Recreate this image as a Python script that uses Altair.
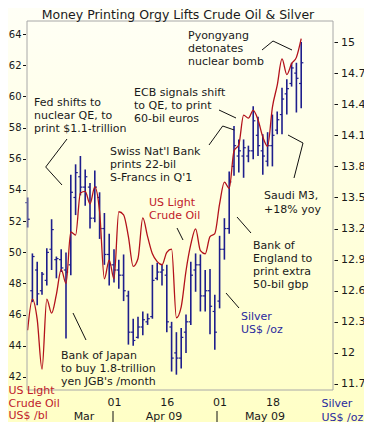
import altair as alt
import pandas as pd

# ---------------- data ----------------
days = [d.strftime("%Y-%m-%d") for d in pd.bdate_range("2009-03-06", "2009-05-26")]

oil = [45.0, 47.0, 45.7, 42.5, 47.0, 46.1, 47.3, 48.9, 48.0, 51.3,
       51.1, 53.8, 53.9, 53.1, 54.2, 52.6, 48.3, 49.5, 48.3, 52.6,
       52.4, 51.0, 49.1, 49.6, 52.2, 51.0, 49.9, 49.4, 49.2, 50.0,
       50.2, 45.8, 46.5, 48.8, 50.5, 51.5, 50.1, 49.9, 51.0, 51.2,
       53.1, 54.5, 54.1, 56.5, 56.9, 58.8, 58.6, 59.1, 58.5, 57.4,
       56.8, 59.3, 60.7, 62.4, 61.4, 62.1, 62.5, 63.7]

s_open = [13.45, 12.60, 12.80, 12.60, 12.70, 13.00, 12.90, 12.90, 12.80, 12.85,
          13.50, 13.70, 13.60, 13.60, 13.30, 13.50, 13.20, 12.95, 12.85, 12.80,
          12.75, 12.55, 12.20, 12.15, 12.25, 12.30, 12.35, 12.72, 12.78, 12.75,
          12.25, 12.00, 11.95, 12.20, 12.30, 12.80, 12.85, 12.55, 12.60, 12.40,
          12.50, 13.00, 13.20, 13.80, 13.90, 13.90, 13.90, 13.95, 14.10, 13.95,
          13.85, 14.00, 14.15, 14.30, 14.50, 14.60, 14.70, 14.60]
s_high = [13.50, 12.96, 12.88, 12.78, 13.01, 13.29, 12.93, 13.00, 12.97, 13.72,
          13.82, 13.90, 13.77, 13.64, 13.76, 13.55, 13.35, 13.15, 13.00, 12.90,
          12.95, 12.60, 12.33, 12.35, 12.40, 12.38, 12.85, 12.87, 12.85, 12.85,
          12.30, 12.20, 12.24, 12.37, 12.88, 12.96, 12.95, 12.80, 12.81, 12.56,
          13.13, 13.30, 13.75, 14.19, 14.06, 14.06, 14.00, 14.38, 14.28, 14.11,
          14.13, 14.30, 14.33, 14.56, 14.64, 14.80, 14.80, 15.00]
s_low = [13.21, 12.49, 12.46, 12.56, 12.65, 12.80, 12.72, 12.78, 12.14, 12.75,
         13.33, 13.52, 13.42, 13.20, 13.26, 13.10, 12.85, 12.65, 12.68, 12.62,
         12.50, 12.08, 12.07, 12.14, 12.17, 12.27, 12.33, 12.70, 12.65, 12.20,
         11.82, 11.79, 11.85, 12.00, 12.27, 12.59, 12.40, 12.40, 12.18, 12.03,
         12.43, 12.90, 13.15, 13.71, 13.74, 13.69, 13.84, 13.87, 13.90, 13.72,
         13.80, 13.80, 14.11, 14.11, 14.30, 14.57, 14.32, 14.36]
s_close = [13.29, 12.93, 12.57, 12.76, 12.97, 13.19, 12.91, 12.82, 12.78, 13.55,
           13.74, 13.60, 13.70, 13.30, 13.60, 13.20, 12.95, 12.85, 12.80, 12.75,
           12.60, 12.20, 12.12, 12.25, 12.32, 12.33, 12.70, 12.78, 12.80, 12.30,
           11.95, 11.95, 12.15, 12.30, 12.75, 12.85, 12.55, 12.60, 12.45, 12.20,
           13.00, 13.20, 13.65, 14.00, 13.95, 13.98, 13.95, 14.24, 14.00, 13.90,
           14.00, 14.10, 14.25, 14.45, 14.55, 14.75, 14.65, 14.80]

x_tick_values = [18, 29, 40, 51]
x_tick_labels = ["01", "16", "01", "18"]
oil_ticks = [42, 44, 46, 48, 50, 52, 54, 56, 58, 60, 62, 64]
silver_ticks = [11.7, 12.0, 12.3, 12.6, 12.9, 13.2, 13.5, 13.8, 14.1, 14.4, 14.7, 15.0]

df = pd.DataFrame({
    "date": days,
    "i": list(range(len(days))),
    "oil": oil,
    "s_open": s_open,
    "s_high": s_high,
    "s_low": s_low,
    "s_close": s_close,
})

# ---------------- styles ----------------
W, H = 306, 369
FONT = "DejaVu Sans"
RED = "#B3121B"
RED_TXT = "#C0202A"
NAVY = "#1E1E8C"
NAVY_TXT = "#2A2A9E"
TXT = "#1a1a1a"

label_expr = " : ".join(
    f"datum.value == {v} ? '{t}'" for v, t in zip(x_tick_values, x_tick_labels)
) + " : ''"

xscale = alt.Scale(domain=[-0.125, 63.625], nice=False, zero=False)
xaxis = alt.Axis(values=x_tick_values, labelExpr=label_expr, ticks=False, domain=False,
                 grid=False, labelPadding=6, labelFontSize=11, zindex=1, title=None)
X = alt.X("i:Q", scale=xscale, axis=xaxis)

oil_scale = alt.Scale(domain=[41.166, 64.834], nice=False, zero=False)
oil_axis = alt.Axis(orient="left", values=oil_ticks, grid=False, domain=False,
                    tickSize=3, offset=1.5, labelPadding=1.5, tickColor="#111",
                    labelFontSize=10, zindex=1, title=None)
sil_scale = alt.Scale(domain=[11.642, 15.203], nice=False, zero=False)
sil_axis = alt.Axis(orient="right", values=silver_ticks, format=".1~f", grid=False,
                    domain=False, tickSize=3.5, offset=1, labelPadding=3, tickColor="#111",
                    labelFontSize=11, zindex=1, title=None)

one = alt.Data(values=[{"k": 0}])

base = alt.Chart(df)

# background gradient (whole canvas) and frame
bg = alt.Chart(one).mark_rect(
    fill=alt.LinearGradient(gradient="linear",
                            stops=[alt.GradientStop(color="#FFFFF6", offset=0),
                                   alt.GradientStop(color="#FFFFC6", offset=1)],
                            x1=0, x2=0, y1=0, y2=1)
).encode(x=alt.value(-19), x2=alt.value(W + 31), y=alt.value(-13), y2=alt.value(H + 32))

frame = alt.Chart(one).mark_rect(filled=False, stroke="#A8A8A8", strokeWidth=1).encode(
    x=alt.value(0), x2=alt.value(W), y=alt.value(0), y2=alt.value(H))

# silver OHLC
hl = base.mark_rule(color=NAVY, strokeWidth=1.6).encode(
    x=X, y=alt.Y("s_low:Q", scale=sil_scale, axis=sil_axis), y2="s_high:Q")
op = base.transform_calculate(xo="datum.i - 0.45").mark_rule(color=NAVY, strokeWidth=1.2).encode(
    x=alt.X("xo:Q", scale=xscale, axis=xaxis), x2="i:Q",
    y=alt.Y("s_open:Q", scale=sil_scale, axis=sil_axis))
cl = base.transform_calculate(xc="datum.i + 0.45").mark_rule(color=NAVY, strokeWidth=1.2).encode(
    x=X, x2="xc:Q",
    y=alt.Y("s_close:Q", scale=sil_scale, axis=sil_axis))
silver = alt.layer(hl, op, cl)

# crude oil line
oil_line = base.mark_line(color=RED, strokeWidth=1.3, interpolate="monotone").encode(
    x=X, y=alt.Y("oil:Q", scale=oil_scale, axis=oil_axis))


def note(lines, x, y, color=TXT, size=11, align="left", lh=13):
    # y is the centre of the first line
    return alt.Chart(one).mark_text(
        text=lines, align=align, baseline="middle", lineHeight=lh,
        fontSize=size, font=FONT, color=color
    ).encode(x=alt.value(x), y=alt.value(y))


def leader(points, color="#111"):
    out = []
    for (x1, y1), (x2, y2) in zip(points[:-1], points[1:]):
        out.append(alt.Chart(one).mark_rule(color=color, strokeWidth=1).encode(
            x=alt.value(x1), y=alt.value(y1), x2=alt.value(x2), y2=alt.value(y2)))
    return out


notes = [
    note(["Money Printing Orgy Lifts Crude Oil & Silver"], 151, -6, size=12.5, align="center"),
    note(["Fed shifts to", "nuclear QE, to", "print $1.1-trillion"], 7, 82.3),
    note(["Swiss Nat'l Bank", "prints 22-bil", "S-Francs in Q'1"], 83, 131),
    note(["ECB signals shift", "to QE, to print", "60-bil euros"], 107, 71.7),
    note(["Pyongyang", "detonates", "nuclear bomb"], 161, 15),
    note(["Saudi M3,", "+18% yoy"], 237, 175, lh=14),
    note(["US Light", "Crude Oil"], 122, 182, color=RED_TXT),
    note(["Bank of", "England to", "print extra", "50-bil gbp"], 226, 225),
    note(["Silver", "US$ /oz"], 214, 295.7, color=NAVY_TXT),
    note(["Bank of Japan", "to buy 1.8-trillion", "yen JGB's /month"], 34, 334.7),
    note(["US Light", "Crude Oil", "US$ /bl"], -18.5, 370, color=RED_TXT, lh=12.5),
    note(["Silver", "US$ /oz"], 294.5, 383, color=NAVY_TXT, lh=13.5),
    note(["Mar"], 57, 396, align="center"),
    note(["Apr 09"], 137, 396, align="center"),
    note(["May 09"], 238, 396, align="center"),
]

lines = []
lines += leader([(40, 118), (18.7, 146), (35, 164)])
lines += leader([(182, 124), (195.7, 105), (207.3, 109)])
lines += leader([(192, 89), (209, 97)])
lines += leader([(235, 29), (246, 20), (265, 29)])
lines += leader([(261, 114), (276, 122), (267, 157)])
lines += leader([(150, 207), (156, 219)])
lines += leader([(210, 196), (224, 212)])
lines += leader([(199, 272), (212, 287)])
lines += leader([(46, 292), (59, 319)])
lines += leader([(86, 390), (86, 401)])
lines += leader([(190, 390), (190, 401)])

chart = alt.layer(
    bg, silver, oil_line, frame, *lines, *notes
).resolve_scale(y="independent").properties(
    width=W, height=H,
    padding={"left": 19, "top": 13, "right": 31, "bottom": 32},
    autosize=alt.AutoSizeParams(type="none"),
).configure(font=FONT).configure_view(stroke=None).configure_axis(
    labelFont=FONT, labelColor=TXT
)

chart.save("out.html", embed_options={"renderer": "svg", "actions": False})
